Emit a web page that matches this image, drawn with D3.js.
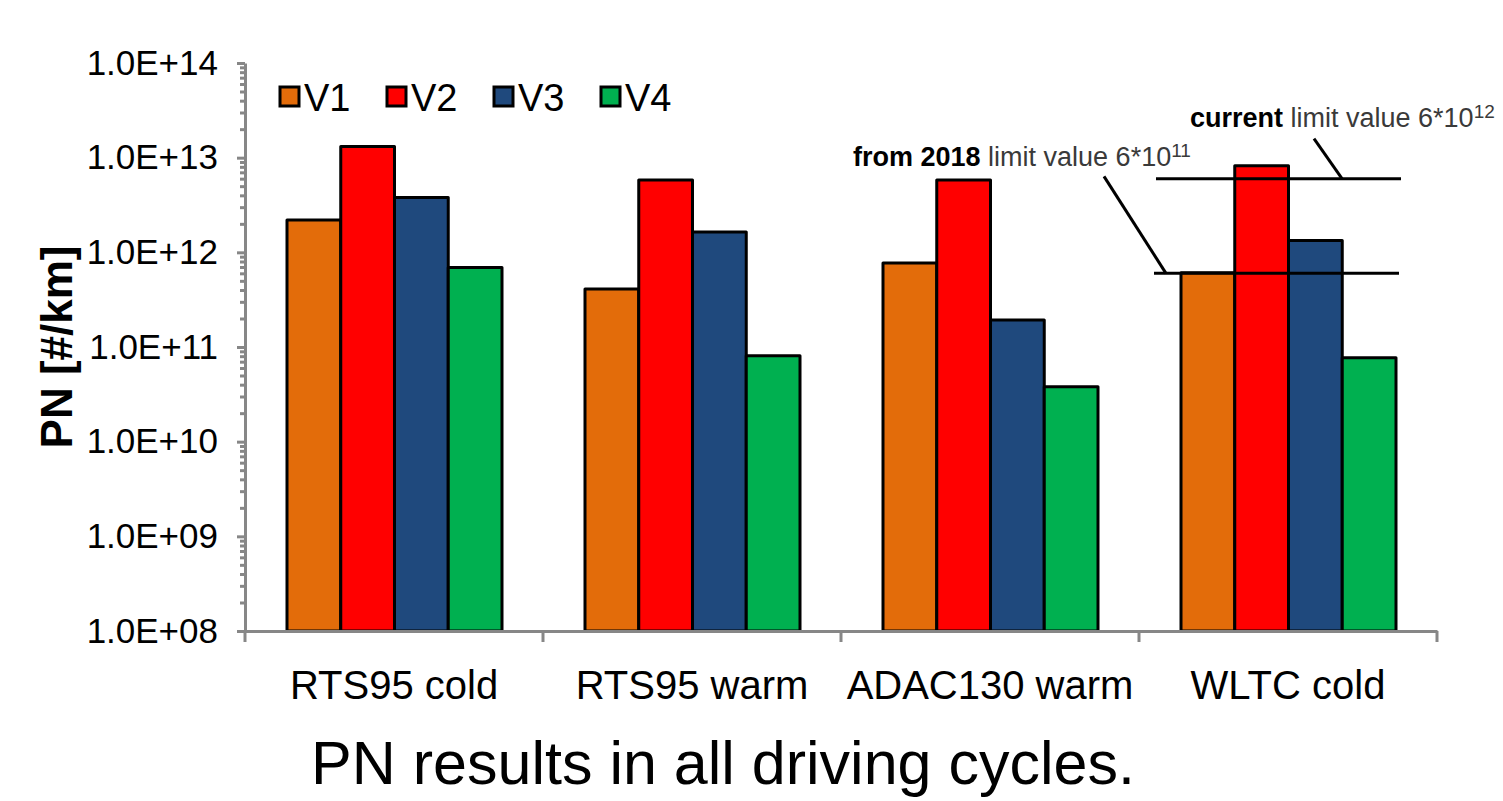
<!DOCTYPE html>
<html>
<head>
<meta charset="utf-8">
<script src="https://cdn.jsdelivr.net/npm/d3@7"></script>
<style>
  body { margin: 0; background: #fff; }
  svg { display: block; font-family: "Liberation Sans", Arial, sans-serif; }
  .axis path, .axis line { stroke: #878787; stroke-width: 3; }
  .axis text { fill: #000; }
</style>
</head>
<body>
<script>
// PN emissions per driving cycle
var cycles = ["RTS95 cold", "RTS95 warm", "ADAC130 warm", "WLTC cold"];
var vehicles = ["V1", "V2", "V3", "V4"];
var colors = ["#e36c0a", "#ff0000", "#1f497d", "#00b050"];
var v1 = [2.2e12, 4.1e11, 7.7e11, 6.1e11];
var v2 = [1.31e13, 5.8e12, 5.8e12, 8.2e12];
var v3 = [3.8e12, 1.64e12, 1.93e11, 1.33e12];
var v4 = [6.9e11, 8.1e10, 3.8e10, 7.7e10];
var majorTicks = [1e8, 1e9, 1e10, 1e11, 1e12, 1e13, 1e14];
var limitOld = 6e12;   // current
var limitNew = 6e11;   // from 2018

var series = [v1, v2, v3, v4];

var W = 1503, H = 801;
var margin = {top: 63, right: 66, bottom: 170, left: 245};
var width = W - margin.left - margin.right,
    height = H - margin.top - margin.bottom;

var svg = d3.select("body").append("svg")
    .attr("width", W)
    .attr("height", H);

var g = svg.append("g")
    .attr("transform", "translate(" + margin.left + "," + margin.top + ")");

var x = d3.scaleBand().domain(cycles).range([0, width]);
var xInner = d3.scaleBand().domain(vehicles).range([42, x.bandwidth() - 41]);
var y = d3.scaleLog().domain([1e8, 1e14]).range([height, 0]);

// minor ticks 2..9 per decade
var minorTicks = [];
majorTicks.slice(0, -1).forEach(function(m) {
    for (var k = 2; k <= 9; k++) minorTicks.push(m * k);
});

// bars
cycles.forEach(function(c, ci) {
    var grp = g.append("g").attr("transform", "translate(" + x(c) + ",0)");
    grp.selectAll("rect")
      .data(vehicles)
    .enter().append("rect")
      .attr("x", function(d) { return xInner(d); })
      .attr("width", xInner.bandwidth())
      .attr("y", function(d, i) { return y(series[i][ci]); })
      .attr("height", function(d, i) { return height - y(series[i][ci]); })
      .attr("fill", function(d, i) { return colors[i]; })
      .attr("stroke", "#000")
      .attr("stroke-width", 3)
      .attr("stroke-linejoin", "round");
});

// y axis
g.append("g")
    .attr("class", "axis")
    .call(d3.axisLeft(y).tickValues(minorTicks).tickSize(5).tickFormat(""))
    .select(".domain").remove();
g.append("g")
    .attr("class", "axis")
    .call(d3.axisLeft(y).tickValues(majorTicks).tickSize(8).tickSizeOuter(0).tickPadding(19)
        .tickFormat(function(d) { return "1.0E+" + d3.format("02d")(Math.round(Math.log10(d))); }))
    .selectAll("text")
    .style("font-size", "35px");

// x axis
var xAxis = g.append("g")
    .attr("class", "axis")
    .attr("transform", "translate(0," + height + ")");
xAxis.call(d3.axisBottom(x).tickSize(0).tickSizeOuter(0).tickPadding(40));
xAxis.selectAll("text").style("font-size", "40px");
xAxis.selectAll(".bound")
    .data(cycles.map(function(c) { return x(c); }).concat([width]))
  .enter().append("line")
    .attr("class", "bound")
    .attr("x1", function(d) { return d; })
    .attr("x2", function(d) { return d; })
    .attr("y1", 0)
    .attr("y2", 11);

// limit lines on WLTC cold
var wx = x("WLTC cold");
var lim = g.append("g").attr("stroke", "#000").attr("stroke-width", 3);
lim.append("line")
    .attr("x1", wx + 17).attr("x2", wx + 262)
    .attr("y1", y(limitOld)).attr("y2", y(limitOld));
lim.append("line")
    .attr("x1", wx + 15).attr("x2", wx + 260)
    .attr("y1", y(limitNew)).attr("y2", y(limitNew));
lim.append("line")
    .attr("x1", wx + 203).attr("y1", y(limitOld))
    .attr("x2", wx + 175).attr("y2", y(limitOld) - 40);
lim.append("line")
    .attr("x1", wx + 27).attr("y1", y(limitNew))
    .attr("x2", wx - 35).attr("y2", y(limitNew) - 97);

function annotate(xp, yp, bold, rest, sup) {
    var t = svg.append("text")
        .attr("x", xp).attr("y", yp)
        .style("font-size", "27px");
    t.append("tspan").attr("font-weight", "bold").attr("fill", "#000").text(bold);
    t.append("tspan").attr("fill", "#3a3a3a").text(" " + rest);
    t.append("tspan").attr("fill", "#3a3a3a").attr("dy", -9).style("font-size", "19px").text(sup);
}
annotate(853, 166, "from 2018", "limit value 6*10", "11");
annotate(1190, 127, "current", "limit value 6*10", "12");

// legend
var legend = svg.append("g").attr("transform", "translate(280,87)");
var item = legend.selectAll("g")
    .data(vehicles)
  .enter().append("g")
    .attr("transform", function(d, i) { return "translate(" + (i * 107) + ",0)"; });
item.append("rect")
    .attr("width", 19).attr("height", 19)
    .attr("fill", function(d, i) { return colors[i]; })
    .attr("stroke", "#000").attr("stroke-width", 3);
item.append("text")
    .attr("x", 24).attr("y", 24)
    .style("font-size", "38px")
    .text(function(d) { return d; });

// y label
svg.append("text")
    .attr("transform", "translate(72,347) rotate(-90)")
    .attr("text-anchor", "middle")
    .attr("font-weight", "bold")
    .style("font-size", "44px")
    .text("PN [#/km]");

// caption
svg.append("text")
    .attr("x", 723).attr("y", 784)
    .attr("text-anchor", "middle")
    .style("font-size", "61px")
    .text("PN results in all driving cycles.");
</script>
</body>
</html>
